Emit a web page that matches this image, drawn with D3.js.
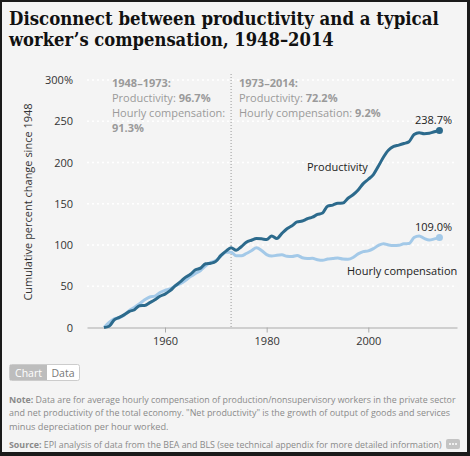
<!DOCTYPE html>
<html>
<head>
<meta charset="utf-8">
<script src="https://cdn.jsdelivr.net/npm/d3@7"></script>
<style>
  html, body { margin: 0; padding: 0; background: #1a1a1a; }
  svg { display: block; }
</style>
</head>
<body>
<svg id="chart" width="470" height="456"></svg>
<script>
const years = d3.range(1948, 2015);
const productivity = [0.0, 1.5, 9.3, 12.3, 15.6, 19.5, 21.6, 26.5, 26.7, 30.1,
  33.6, 37.9, 40.5, 44.6, 50.5, 55.3, 60.8, 64.5, 70.0, 72.0,
  77.2, 77.9, 80.2, 87.4, 92.6, 96.7, 93.7, 97.9, 103.4, 105.8,
  107.8, 107.5, 106.6, 111.0, 107.9, 114.1, 119.7, 123.4, 128.0, 129.1,
  131.8, 133.7, 137.0, 138.8, 147.2, 148.4, 150.7, 150.8, 156.7, 160.9,
  166.7, 174.4, 179.7, 185.4, 195.7, 206.6, 215.1, 219.5, 221.1, 223.0,
  225.2, 233.9, 236.1, 234.9, 235.4, 237.2, 238.7];
const compensation = [0.0, 6.3, 10.5, 11.8, 15.0, 20.8, 24.5, 28.7, 33.6, 37.0,
  38.1, 42.4, 45.1, 46.9, 50.4, 53.2, 57.1, 61.7, 65.5, 69.1,
  74.9, 79.0, 81.1, 86.7, 91.2, 91.3, 87.0, 86.9, 89.7, 93.1,
  96.6, 93.4, 88.4, 86.6, 87.6, 88.1, 86.4, 86.1, 87.3, 84.6,
  83.7, 83.8, 82.2, 81.5, 83.0, 83.5, 84.3, 82.9, 82.7, 84.8,
  89.2, 91.9, 92.9, 95.6, 99.5, 101.6, 100.0, 99.3, 99.7, 101.4,
  101.7, 109.0, 111.0, 107.9, 106.0, 107.4, 109.0];
const seriesNames = ["Productivity", "Hourly compensation"];
const yTicks = [0, 50, 100, 150, 200, 250, 300];
const xTicks = [1960, 1980, 2000];
const splitYear = 1973;
const titleLines = ["Disconnect between productivity and a typical",
  "worker\u2019s compensation, 1948\u20132014"];
const yAxisTitle = "Cumulative percent change since 1948";
const period1 = ["1948\u20131973:", "Productivity: ", "96.7%", "Hourly compensation:", "91.3%"];
const period2 = ["1973\u20132014:", "Productivity: ", "72.2%", "Hourly compensation: ", "9.2%"];
const endLabels = ["238.7%", "109.0%"];
const noteLines = [
  ["Note:", " Data are for average hourly compensation of production/nonsupervisory workers in the private sector"],
  ["", "and net productivity of the total economy. \"Net productivity\" is the growth of output of goods and services"],
  ["", "minus depreciation per hour worked."]
];
const sourceLine = ["Source:", " EPI analysis of data from the BEA and BLS (see technical appendix for more detailed information)"];

const svg = d3.select("#chart");
const font = "'Open Sans', 'Noto Sans', sans-serif";
const colProd = "#2c6a8c", colComp = "#a3c9e8";

// panel
svg.append("rect").attr("x", 2).attr("y", 2).attr("width", 465).attr("height", 450).attr("fill", "#f4f4f4");

// title: render, then squeeze horizontally to the reference width
const titleWidths = [430, 325];
titleLines.forEach((t, i) => {
  const el = svg.append("text").attr("x", 0).attr("y", 0)
    .attr("font-family", "'DejaVu Serif', serif").attr("font-weight", "bold")
    .attr("font-size", 19).attr("fill", "#111").text(t);
  const w = el.node().getComputedTextLength();
  el.attr("transform", `translate(9,${25 + i * 21}) scale(${titleWidths[i] / w},1)`);
});

const x = d3.scaleLinear().domain([1944.65, 2017.45]).range([87, 457]);
const y = d3.scaleLinear().domain([0, 300]).range([327.5, 80]);

// gridlines
svg.append("g").selectAll("line").data(yTicks.filter(d => d > 0)).join("line")
  .attr("x1", 87).attr("x2", 457).attr("y1", d => y(d)).attr("y2", d => y(d))
  .attr("stroke", "#ffffff").attr("stroke-width", 1.5).attr("stroke-dasharray", "2,3");

// y labels
svg.append("g").selectAll("text").data(yTicks).join("text")
  .attr("x", 73).attr("y", d => y(d) + 4).attr("text-anchor", "end")
  .attr("font-family", font).attr("font-size", 11).attr("fill", "#333")
  .text(d => d === 300 ? d + "%" : d);

// y axis title
svg.append("text").attr("transform", "translate(32,202) rotate(-90)")
  .attr("text-anchor", "middle").attr("font-family", font).attr("font-size", 11).attr("fill", "#333")
  .text(yAxisTitle);

// x axis
const xAxis = d3.axisBottom(x).tickValues(xTicks).tickFormat(d3.format("d")).tickSize(5).tickSizeOuter(0);
const gx = svg.append("g").attr("transform", `translate(0,${y(0)})`).call(xAxis);
gx.select(".domain").attr("stroke", "#aaa");
gx.selectAll(".tick line").attr("stroke", "#aaa");
gx.selectAll(".tick text").attr("font-family", font).attr("font-size", 11).attr("fill", "#333").attr("dy", "0.9em");

// split line
svg.append("line").attr("x1", x(splitYear)).attr("x2", x(splitYear)).attr("y1", 74).attr("y2", y(0))
  .attr("stroke", "#999").attr("stroke-width", 1).attr("stroke-dasharray", "1,2");

// annotations
function annot(x0, p) {
  const g = svg.append("g").attr("font-family", font).attr("font-size", 11).attr("fill", "#9a9a9a");
  g.append("text").attr("x", x0).attr("y", 87).attr("font-weight", "bold").text(p[0]);
  const t2 = g.append("text").attr("x", x0).attr("y", 102);
  t2.append("tspan").text(p[1]); t2.append("tspan").attr("font-weight", "bold").text(p[2]);
  if (p[4].length > 4) {
    g.append("text").attr("x", x0).attr("y", 117).text(p[3]);
    g.append("text").attr("x", x0).attr("y", 132).attr("font-weight", "bold").text(p[4]);
  } else {
    const t3 = g.append("text").attr("x", x0).attr("y", 117);
    t3.append("tspan").text(p[3]); t3.append("tspan").attr("font-weight", "bold").text(p[4]);
  }
}
annot(112, period1);
annot(239, period2);

// lines
const line = d3.line().x((d, i) => x(years[i])).y(d => y(d)).curve(d3.curveMonotoneX);
svg.append("path").datum(compensation).attr("d", line).attr("fill", "none")
  .attr("stroke", colComp).attr("stroke-width", 3).attr("stroke-linejoin", "round");
svg.append("path").datum(productivity).attr("d", line).attr("fill", "none")
  .attr("stroke", colProd).attr("stroke-width", 3).attr("stroke-linejoin", "round");

const last = years.length - 1;
[[productivity, colProd, endLabels[0]], [compensation, colComp, endLabels[1]]].forEach(([s, c, lab]) => {
  svg.append("circle").attr("cx", x(years[last])).attr("cy", y(s[last])).attr("r", 3.5).attr("fill", c);
  svg.append("text").attr("x", x(years[last]) - 6).attr("y", y(s[last]) - 7).attr("text-anchor", "middle")
    .attr("font-family", font).attr("font-size", 11).attr("fill", "#222").text(lab);
});

// series labels
svg.append("text").attr("x", 307).attr("y", 171).attr("font-family", font).attr("font-size", 11).attr("fill", "#222").text(seriesNames[0]);
svg.append("text").attr("x", 347).attr("y", 275).attr("font-family", font).attr("font-size", 11).attr("fill", "#222").text(seriesNames[1]);

// Chart / Data toggle
svg.append("rect").attr("x", 9.5).attr("y", 364.5).attr("width", 70).attr("height", 16).attr("rx", 2)
  .attr("fill", "#fff").attr("stroke", "#ccc");
svg.append("rect").attr("x", 10).attr("y", 365).attr("width", 37).attr("height", 15).attr("fill", "#bdbdbd");
svg.append("text").attr("x", 28.5).attr("y", 376.5).attr("text-anchor", "middle").attr("font-family", font)
  .attr("font-size", 10.5).attr("fill", "#fff").text("Chart");
svg.append("text").attr("x", 63).attr("y", 376.5).attr("text-anchor", "middle").attr("font-family", font)
  .attr("font-size", 10.5).attr("fill", "#777").text("Data");

// notes: fit by font size to the reference widths
function fitText(parts, yPos, target) {
  const t = svg.append("text").attr("x", 9).attr("y", yPos).attr("font-family", font)
    .attr("font-size", 10).attr("fill", "#8a8a8a");
  if (parts[0]) t.append("tspan").attr("font-weight", "bold").text(parts[0]);
  t.append("tspan").text(parts[1]);
  if (target) {
    const w = t.node().getComputedTextLength();
    t.attr("font-size", 10 * target / w);
  } else {
    t.attr("font-size", 9.2);
  }
}
const noteWidths = [447, 442, null];
noteLines.forEach((l, i) => fitText(l, 403 + i * 13.3, noteWidths[i]));
fitText(sourceLine, 448, 433);

// more button
svg.append("rect").attr("x", 446).attr("y", 439).attr("width", 14).attr("height", 10).attr("rx", 2).attr("fill", "#c4c4c4");
[450, 453, 456].forEach(cx => svg.append("circle").attr("cx", cx).attr("cy", 444).attr("r", 1).attr("fill", "#fff"));
</script>
</body>
</html>
